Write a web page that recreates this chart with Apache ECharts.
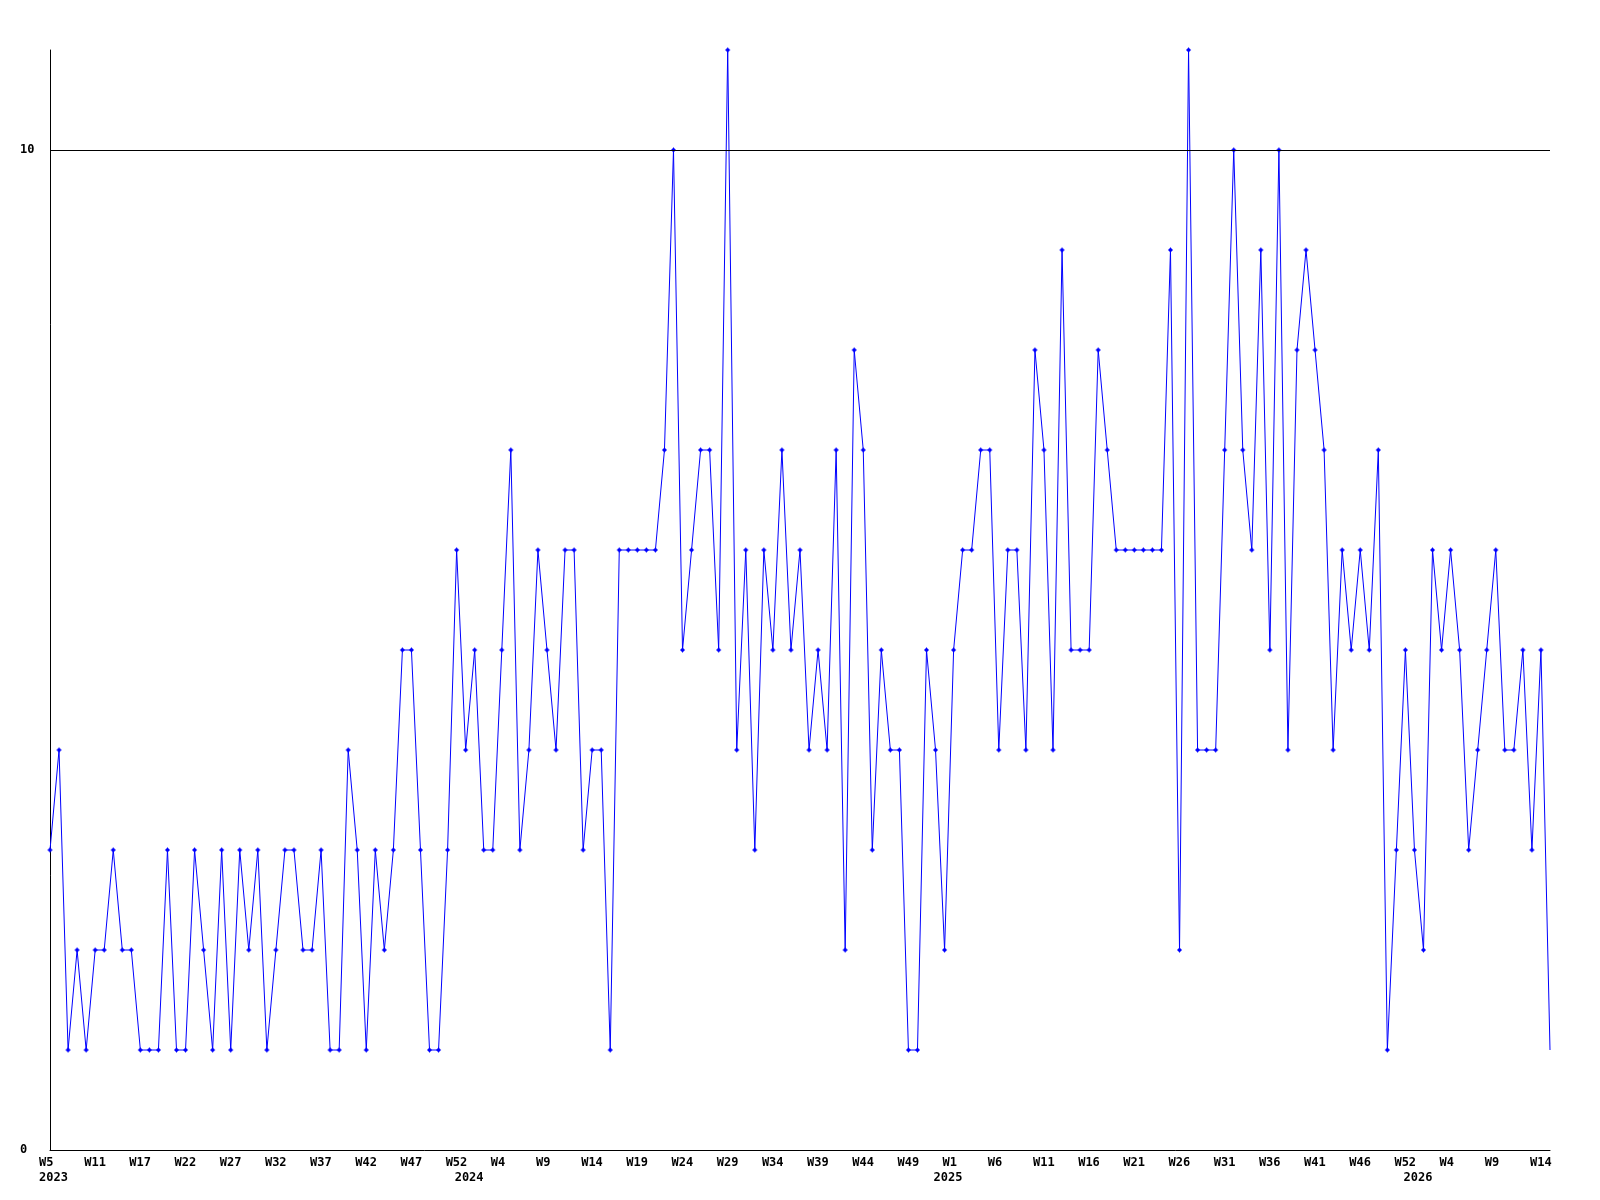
<!DOCTYPE html>
<html>
<head>
<meta charset="utf-8">
<script src="https://cdn.jsdelivr.net/npm/echarts@6/dist/echarts.min.js"></script>
<style>
html,body{margin:0;padding:0;background:#fff;}
#c{width:1600px;height:1200px;}
</style>
</head>
<body>
<div id="c"></div>
<script>
// Weekly values, 2023 W5 .. 2026 W15 (167 weeks)
const values = [
  3,4,1,2,1,2,2,3,2,2,
  1,1,1,3,1,1,3,2,1,3,
  1,3,2,3,1,2,3,3,2,2,
  3,1,1,4,3,1,3,2,3,5,
  5,3,1,1,3,6,4,5,3,3,
  5,7,3,4,6,5,4,6,6,3,
  4,4,1,6,6,6,6,6,7,10,
  5,6,7,7,5,11,4,6,3,6,
  5,7,5,6,4,5,4,7,2,8,
  7,3,5,4,4,1,1,5,4,2,
  5,6,6,7,7,4,6,6,4,8,
  7,4,9,5,5,5,8,7,6,6,
  6,6,6,6,9,2,11,4,4,4,
  7,10,7,6,9,5,10,4,8,9,
  8,7,4,6,5,6,5,7,1,3,
  5,3,2,6,5,6,5,3,4,5,
  6,4,4,5,3,5,1
];

// Tick labels (one every 5 weeks) as printed on the chart
const weekTickLabels = [
  'W5','W11','W17','W22','W27','W32','W37','W42','W47','W52',
  'W4','W9','W14','W19','W24','W29','W34','W39','W44','W49',
  'W1','W6','W11','W16','W21','W26','W31','W36','W41','W46',
  'W52','W4','W9','W14'
];
const weekTickStep = 5;
const yearTickLabels = ['2023','2024','2025','2026'];
const yearTickIndex = [0, 46, 99, 151];

// Category names (one per week)
const startYear = 2023, startWeek = 5, weeksPerYear = 52;
const categories = [];
{
  let y = startYear, w = startWeek;
  for (let i = 0; i < values.length; i++) {
    categories.push(y + '-W' + w);
    w++;
    if (w > weeksPerYear) { w = 1; y++; }
  }
}

const weekMap = {};
weekTickLabels.forEach((t, k) => { weekMap[k * weekTickStep] = t; });
const yearMap = {};
yearTickIndex.forEach((idx, k) => { yearMap[idx] = yearTickLabels[k]; });

const font = {
  fontFamily: '"DejaVu Sans Mono", "Liberation Mono", monospace',
  fontWeight: 'bold',
  fontSize: 12,
  color: '#000'
};

const chart = echarts.init(document.getElementById('c'), null, {renderer: 'canvas'});
chart.setOption({
  animation: false,
  backgroundColor: '#ffffff',
  grid: [
    {left: 50, right: 50, top: 50, bottom: 50},
    {left: 39, right: 61, top: 50, bottom: 50}
  ],
  xAxis: [
    {
      type: 'category', gridIndex: 0, data: categories, boundaryGap: false,
      axisLine: {show: true, lineStyle: {color: '#000', width: 1}},
      axisTick: {show: false}, axisLabel: {show: false}, splitLine: {show: false}
    },
    {
      type: 'category', gridIndex: 1, data: categories, boundaryGap: false,
      axisLine: {show: false}, axisTick: {show: false}, splitLine: {show: false},
      axisLabel: Object.assign({
        show: true,
        interval: (i) => (i in weekMap) || (i in yearMap),
        formatter: (v, i) => (weekMap[i] || '') + '\n' + (yearMap[i] || ''),
        align: 'left',
        margin: 5,
        lineHeight: 15
      }, font)
    }
  ],
  yAxis: [
    {
      type: 'value', gridIndex: 0, min: 0, max: 11, interval: 10,
      axisLine: {show: true, lineStyle: {color: '#000', width: 1}},
      axisTick: {show: false}, splitLine: {show: false},
      axisLabel: Object.assign({showMaxLabel: false, align: 'left', margin: 30}, font)
    },
    {type: 'value', gridIndex: 1, show: false, min: 0, max: 11}
  ],
  series: [{
    type: 'line',
    xAxisIndex: 0, yAxisIndex: 0,
    data: values.map((v, i) => i === values.length - 1 ? {value: v, symbol: 'none'} : v),
    showAllSymbol: true,
    symbol: 'path://M2,0H3V1H4V2H5V3H4V4H3V5H2V4H1V3H0V2H1V1H2Z',
    symbolSize: 5,
    lineStyle: {color: '#0000ff', width: 1},
    itemStyle: {color: '#0000ff'},
    markLine: {
      silent: true, symbol: 'none', animation: false,
      label: {show: false},
      lineStyle: {color: '#000', width: 1, type: 'solid'},
      data: [{yAxis: 10}]
    }
  }]
});
</script>
</body>
</html>
